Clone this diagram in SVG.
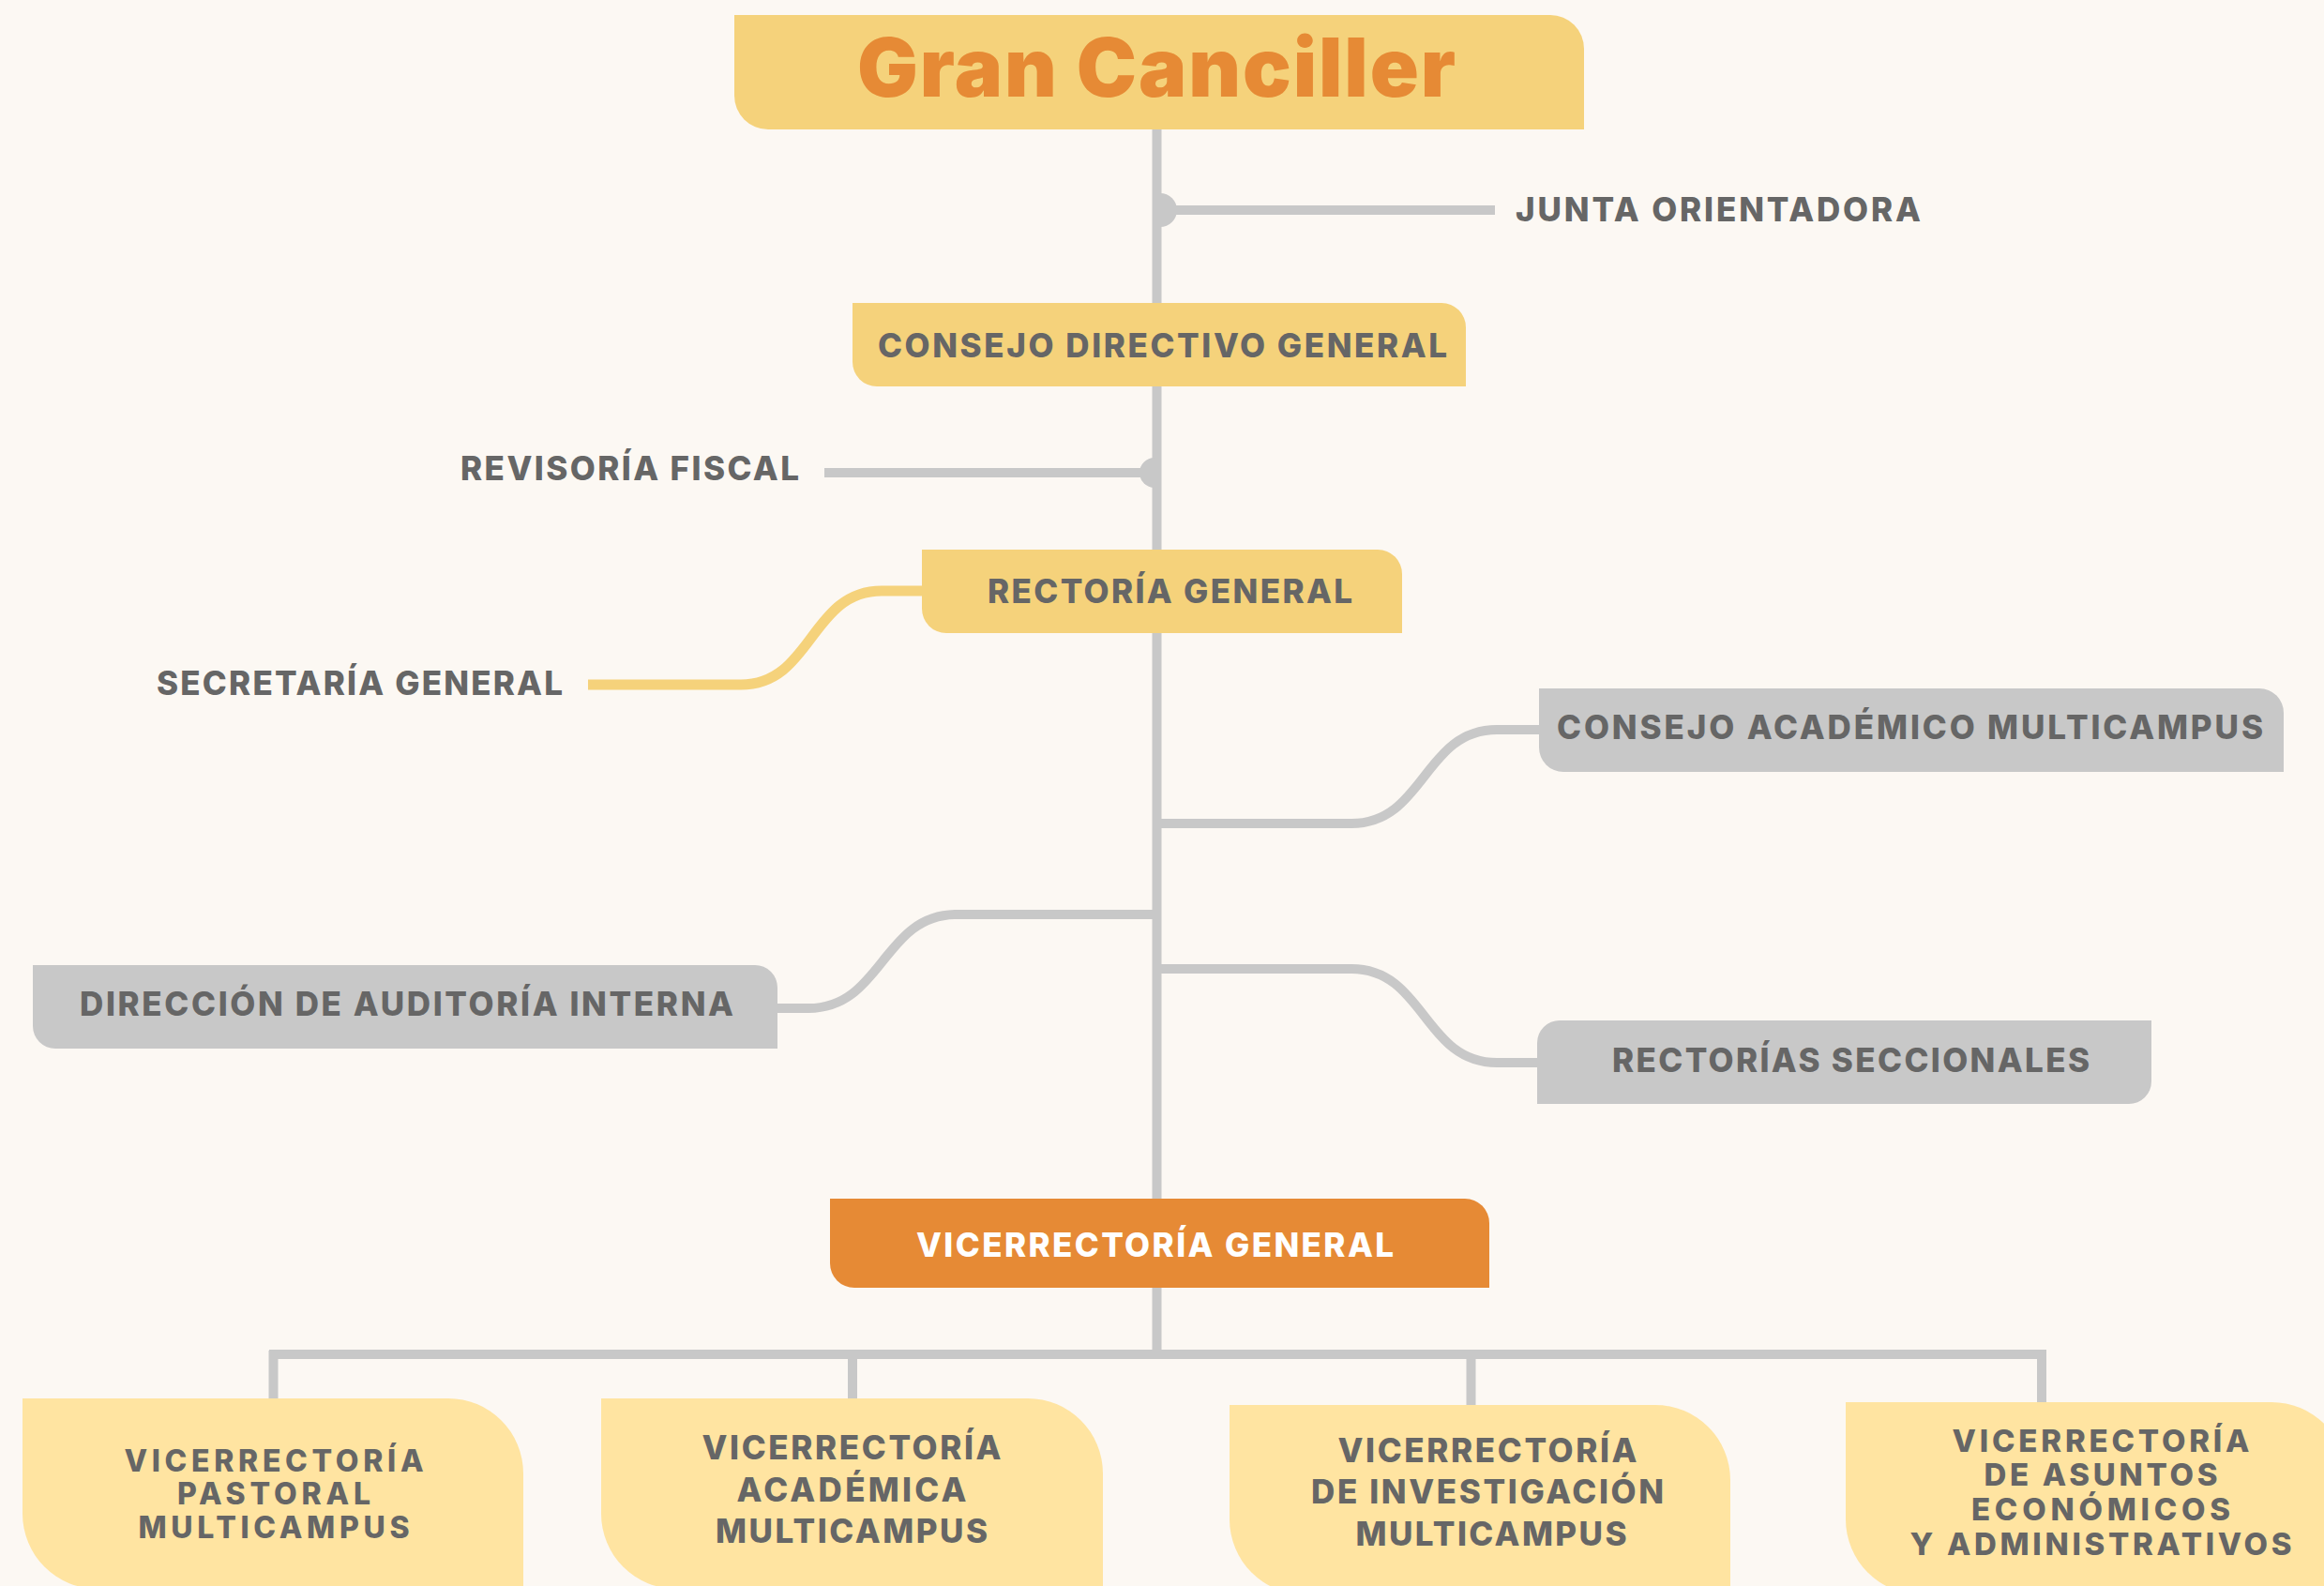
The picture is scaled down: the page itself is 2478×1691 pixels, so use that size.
<svg xmlns="http://www.w3.org/2000/svg" width="2478" height="1691" viewBox="0 0 2478 1691">
<style>
.bg{fill:#FCF8F3}
.y{fill:#F5D27B}
.ly{fill:#FFE4A1}
.g{fill:#C8C8C8}
.o{fill:#E68A35}
.ln{stroke:#C8C8C8;stroke-width:10;fill:none}
.yl{stroke:#F5D27B;stroke-width:11;fill:none}
.t{font-family:Inter,"Noto Sans","Liberation Sans",sans-serif;font-weight:800;font-size:35px;fill:#666666}
.s{font-size:33px}
.xs{font-size:32px}
.tw{fill:#FFFFFF}
.title{font-family:Inter,"Noto Sans","Liberation Sans",sans-serif;font-weight:900;font-size:86px;fill:#E68A35}
</style>
<rect class="bg" x="0" y="0" width="2478" height="1691"/>
<g id="connectors">
  <line class="ln" x1="1233.5" y1="137" x2="1233.5" y2="1444" stroke-width="9"/>
  <line class="ln" x1="1233" y1="224" x2="1594" y2="224"/>
  <path class="g" d="M1237,206 A18,18 0 0 1 1237,242 Z"/>
  <line class="ln" x1="879" y1="504" x2="1233" y2="504"/>
  <path class="g" d="M1231,488 A16,16 0 0 0 1231,520 Z"/>
  <path class="yl" d="M627,730 H790 C866,730 864,630 940,630 H990"/>
  <path class="ln" d="M1233,878 H1441 C1519,878 1518,778 1596,778 H1645"/>
  <path class="ln" d="M1233,1033 H1441 C1519,1033 1518,1133 1596,1133 H1645"/>
  <path class="ln" d="M825,1075 H862 C941,1075 941,975 1020,975 H1233"/>
  <line class="ln" x1="287" y1="1444" x2="2182" y2="1444"/>
  <line class="ln" x1="291.5" y1="1440" x2="291.5" y2="1495"/>
  <line class="ln" x1="909" y1="1440" x2="909" y2="1503"/>
  <line class="ln" x1="1568.5" y1="1440" x2="1568.5" y2="1506"/>
  <line class="ln" x1="2177" y1="1440" x2="2177" y2="1498"/>
</g>
<g id="gran-canciller">
  <path class="y" d="M783,16 H1653 A36,36 0 0 1 1689,52 V138 H819 A36,36 0 0 1 783,102 Z"/>
  <text class="title" x="1233" y="103" text-anchor="middle" textLength="638">Gran Canciller</text>
</g>
<g id="junta-orientadora">
  <text class="t" x="1616" y="236" textLength="432">JUNTA ORIENTADORA</text>
</g>
<g id="consejo-directivo-general">
  <path class="y" d="M909,323 H1537 A26,26 0 0 1 1563,349 V412 H935 A26,26 0 0 1 909,386 Z"/>
  <text class="t" x="936" y="381" textLength="607">CONSEJO DIRECTIVO GENERAL</text>
</g>
<g id="revisoria-fiscal">
  <text class="t" x="491" y="512" textLength="361">REVISORÍA FISCAL</text>
</g>
<g id="rectoria-general">
  <path class="y" d="M983,586 H1469 A26,26 0 0 1 1495,612 V675 H1009 A26,26 0 0 1 983,649 Z"/>
  <text class="t" x="1053" y="643" textLength="389">RECTORÍA GENERAL</text>
</g>
<g id="secretaria-general">
  <text class="t" x="167" y="741" textLength="433">SECRETARÍA GENERAL</text>
</g>
<g id="consejo-academico-multicampus">
  <path class="g" d="M1641,734 H2409 A26,26 0 0 1 2435,760 V823 H1667 A26,26 0 0 1 1641,797 Z"/>
  <text class="t" x="1660" y="788" textLength="753">CONSEJO ACADÉMICO MULTICAMPUS</text>
</g>
<g id="direccion-auditoria-interna">
  <path class="g" d="M35,1029 H805 A24,24 0 0 1 829,1053 V1118 H59 A24,24 0 0 1 35,1094 Z"/>
  <text class="t" x="85" y="1083" textLength="697">DIRECCIÓN DE AUDITORÍA INTERNA</text>
</g>
<g id="rectorias-seccionales">
  <path class="g" d="M1663,1088 H2294 V1153 A24,24 0 0 1 2270,1177 H1639 V1112 A24,24 0 0 1 1663,1088 Z"/>
  <text class="t" x="1719" y="1143" textLength="509">RECTORÍAS SECCIONALES</text>
</g>
<g id="vicerrectoria-general">
  <path class="o" d="M885,1278 H1562 A26,26 0 0 1 1588,1304 V1373 H911 A26,26 0 0 1 885,1347 Z"/>
  <text class="t tw" x="977" y="1340" textLength="509">VICERRECTORÍA GENERAL</text>
</g>
<g id="vicerrectoria-pastoral">
  <path class="ly" d="M24,1491 H478 A80,80 0 0 1 558,1571 V1694 H104 A80,80 0 0 1 24,1614 Z"/>
  <text class="t xs" text-anchor="middle" x="292" y="1569" textLength="319">VICERRECTORÍA</text>
  <text class="t xs" text-anchor="middle" x="292" y="1604" textLength="206">PASTORAL</text>
  <text class="t xs" text-anchor="middle" x="292" y="1640" textLength="289">MULTICAMPUS</text>
</g>
<g id="vicerrectoria-academica">
  <path class="ly" d="M641,1491 H1096 A80,80 0 0 1 1176,1571 V1694 H721 A80,80 0 0 1 641,1614 Z"/>
  <text class="t" text-anchor="middle" x="908" y="1556" textLength="319">VICERRECTORÍA</text>
  <text class="t" text-anchor="middle" x="908" y="1601" textLength="245">ACADÉMICA</text>
  <text class="t" text-anchor="middle" x="908" y="1645" textLength="290">MULTICAMPUS</text>
</g>
<g id="vicerrectoria-investigacion">
  <path class="ly" d="M1311,1498 H1765 A80,80 0 0 1 1845,1578 V1700 H1391 A80,80 0 0 1 1311,1620 Z"/>
  <text class="t" text-anchor="middle" x="1586" y="1559" textLength="319">VICERRECTORÍA</text>
  <text class="t" text-anchor="middle" x="1586" y="1603" textLength="376">DE INVESTIGACIÓN</text>
  <text class="t" text-anchor="middle" x="1590" y="1648" textLength="289">MULTICAMPUS</text>
</g>
<g id="vicerrectoria-asuntos">
  <path class="ly" d="M1968,1495 H2422 A80,80 0 0 1 2502,1575 V1700 H2048 A80,80 0 0 1 1968,1620 Z"/>
  <text class="t s" text-anchor="middle" x="2240" y="1548" textLength="317">VICERRECTORÍA</text>
  <text class="t s" text-anchor="middle" x="2240" y="1584" textLength="249">DE ASUNTOS</text>
  <text class="t s" text-anchor="middle" x="2240" y="1621" textLength="276">ECONÓMICOS</text>
  <text class="t s" text-anchor="middle" x="2240" y="1658" textLength="407">Y ADMINISTRATIVOS</text>
</g>
</svg>
